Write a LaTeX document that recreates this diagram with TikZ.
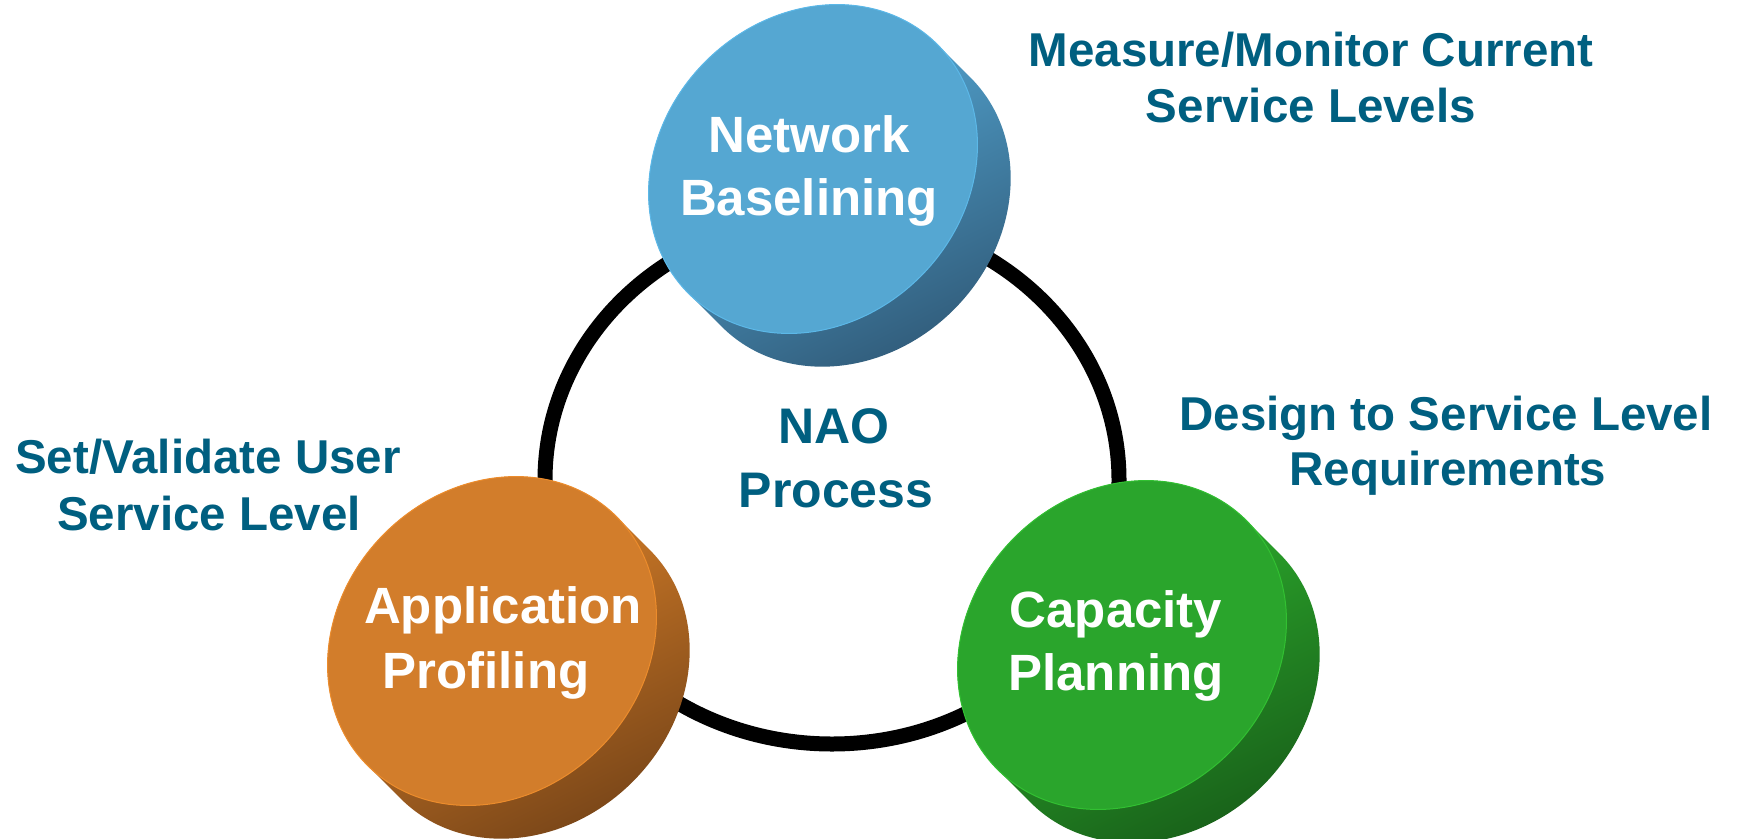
\documentclass[tikz,border=0pt]{standalone}
\usepackage{fontspec}
\setmainfont{Liberation Sans}
\definecolor{txtblue}{RGB}{0,95,128}
\definecolor{bluetop}{RGB}{85,167,210}
\definecolor{bluelight}{RGB}{92,184,232}
\definecolor{bluedark}{RGB}{48,90,120}
\definecolor{orangetop}{RGB}{210,125,43}
\definecolor{orangelight}{RGB}{236,140,44}
\definecolor{orangedark}{RGB}{118,68,24}
\definecolor{greentop}{RGB}{42,165,44}
\definecolor{greenlight}{RGB}{50,192,50}
\definecolor{greendark}{RGB}{24,94,25}
\newcommand\mydisc[5]{%
  \begin{scope}[shift={(#1,#2)}, rotate=45]
    \shade[top color=#5, bottom color=#4, shading angle=26]
      (176,0) arc[start angle=0, end angle=-180, x radius=176, y radius=152]
      -- (-176,47) arc[start angle=180, end angle=0, x radius=176, y radius=152]
      -- cycle;
    \fill[#3] (0,0) ellipse[x radius=176, y radius=152];
    \draw[#5, line width=1pt] (0,0) ellipse[x radius=176, y radius=152];
  \end{scope}}
\begin{document}
\begin{tikzpicture}[x=1pt,y=-1pt,
  note/.style={text=txtblue, font=\bfseries\fontsize{47.5}{57}\selectfont, anchor=base, inner sep=0pt},
  midtext/.style={text=txtblue, font=\bfseries\fontsize{50}{60}\selectfont, anchor=base, inner sep=0pt},
  disctext/.style={text=white, font=\bfseries\fontsize{51}{61}\selectfont, anchor=base, inner sep=0pt}]
\useasboundingbox (0,0) rectangle (1737,838);
\fill[white] (0,0) rectangle (1737,838);
\coordinate (ringc) at (832,480);
\draw[line width=15pt] (ringc) ellipse[x radius=287, y radius=264];
\mydisc{813}{169}{bluetop}{bluedark}{bluelight}
\mydisc{492}{641}{orangetop}{orangedark}{orangelight}
\mydisc{1122}{645}{greentop}{greendark}{greenlight}
\node[note] (m1) at (1311,66) {Measure/Monitor Current};
\node[note] (m2) at (1311,122) {Service Levels};
\node[note] (s1) at (208,473) {Set/Validate User};
\node[note] (s2) at (209,530) {Service Level};
\node[note] (d1) at (1446,430) {Design to Service Level};
\node[note] (d2) at (1448,485) {Requirements};
\node[midtext] (n1) at (834,443) {NAO};
\node[midtext] (n2) at (836,507) {Process};
\node[disctext] (b1) at (809,152) {Network};
\node[disctext] (b2) at (809,215) {Baselining};
\node[disctext] (a1) at (503,623) {Application};
\node[disctext] (a2) at (486,688) {Profiling};
\node[disctext] (c1) at (1116,627) {Capacity};
\node[disctext] (c2) at (1116,690) {Planning};
\end{tikzpicture}
\end{document}
